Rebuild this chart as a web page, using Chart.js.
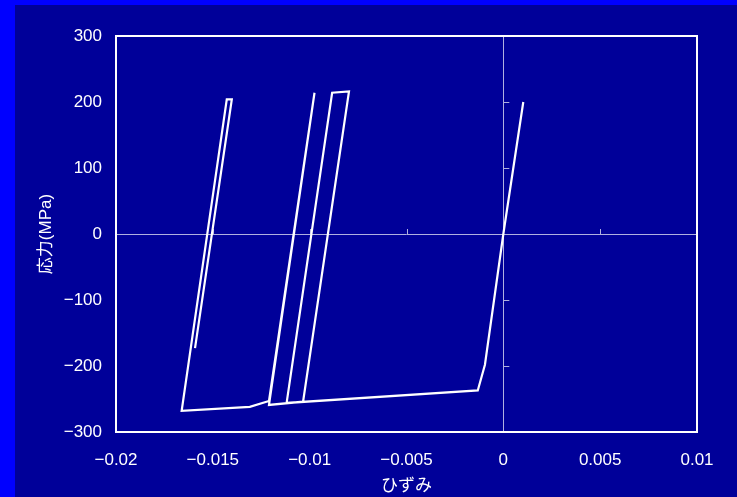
<!DOCTYPE html>
<html><head><meta charset="utf-8">
<script src="https://cdn.jsdelivr.net/npm/chart.js@4/dist/chart.umd.min.js"></script>
<style>
html,body{margin:0;padding:0;background:#0000ff;overflow:hidden;}
#wrap{position:absolute;left:0;top:0;width:737px;height:497px;background:#0000ff;}
#inner{position:absolute;left:15px;top:5px;right:0;bottom:0;background:#000099;}
#c{position:absolute;left:0;top:0;}
</style></head><body>
<div id="wrap"><div id="inner"></div><canvas id="c" width="737" height="497"></canvas></div>
<script>
// strain (ひずみ) and stress (応力, MPa), in drawing order
const strain = [0, 0.00103, 0, -0.00095, -0.00132, -0.01119, -0.00884, -0.00797, -0.01034, -0.0121, -0.00975, -0.0121, -0.01309, -0.01661, -0.01428, -0.01402, -0.01592];
const stress = [0, 200, 0, -198, -237, -256, 214, 216, -254, -259, 214, -253, -262, -268, 204, 204, -173];
const xTicks = [-0.02, -0.015, -0.01, -0.005, 0, 0.005, 0.01];
const yTicks = [-300, -200, -100, 0, 100, 200, 300];
const xTitle = 'ひずみ';
const yTitle = '応力(MPa)';

const points = strain.map((x, i) => ({x: x, y: stress[i]}));
const FONT = "'Liberation Sans', 'Noto Sans CJK JP', sans-serif";
const ZERO = '#b0b0e0';
const minus = s => String(s).replace('-', '\u2212');

const framePlugin = {
  id: 'frame',
  beforeDatasetsDraw(chart) {
    const {ctx, chartArea: a, scales} = chart;
    ctx.save();
    const x0 = scales.x.getPixelForValue(0), y0 = scales.y.getPixelForValue(0);
    ctx.strokeStyle = ZERO; ctx.lineWidth = 1;
    ctx.beginPath();
    xTicks.forEach(v => { if (v !== 0 && v > xTicks[0] && v < xTicks[xTicks.length-1]) { const px = Math.round(scales.x.getPixelForValue(v)) + 0.5; ctx.moveTo(px, y0); ctx.lineTo(px, y0 - 5); } });
    yTicks.forEach(v => { if (v !== 0 && v > yTicks[0] && v < yTicks[yTicks.length-1]) { const py = Math.round(scales.y.getPixelForValue(v)) + 0.5; ctx.moveTo(x0, py); ctx.lineTo(x0 + 6, py); } });
    ctx.stroke();
    ctx.strokeStyle = '#ffffff'; ctx.lineWidth = 2;
    ctx.strokeRect(a.left, a.top, a.right - a.left, a.bottom - a.top);
    ctx.restore();
  }
};

new Chart(document.getElementById('c'), {
  type: 'scatter',
  data: { datasets: [{ data: points, showLine: true, borderColor: '#ffffff', borderWidth: 2.2, pointRadius: 0, fill: false, tension: 0 }] },
  options: {
    responsive: false, animation: false,
    layout: { padding: { top: 36, right: 40, left: 0, bottom: 0 } },
    plugins: { legend: { display: false }, tooltip: { enabled: false } },
    scales: {
      x: {
        type: 'linear', min: -0.02, max: 0.01,
        afterBuildTicks: s => { s.ticks = xTicks.map(v => ({value: v})); },
        afterFit: s => { s.height = 65; },
        grid: { drawTicks: false, lineWidth: 1, color: c => (c.tick && c.tick.value === 0) ? ZERO : 'rgba(0,0,0,0)' },
        border: { display: false },
        ticks: { color: '#ffffff', font: { family: FONT, size: 17 }, padding: 18, maxRotation: 0, autoSkip: false,
          callback: v => minus(Number(Number(v).toFixed(4))) },
        title: { display: true, text: xTitle, color: '#ffffff', font: { family: FONT, size: 17, lineHeight: 1 }, padding: { top: 0, bottom: 2 } }
      },
      y: {
        type: 'linear', min: -300, max: 300,
        afterBuildTicks: s => { s.ticks = yTicks.map(v => ({value: v})); },
        afterFit: s => { s.width = 116; },
        grid: { drawTicks: false, lineWidth: 1, color: c => (c.tick && c.tick.value === 0) ? ZERO : 'rgba(0,0,0,0)' },
        border: { display: false },
        ticks: { color: '#ffffff', font: { family: FONT, size: 17 }, padding: 14, autoSkip: false,
          callback: v => minus(v) },
        title: { display: true, text: yTitle, color: '#ffffff', font: { family: FONT, size: 17 }, padding: { top: 36, bottom: 0 } }
      }
    }
  },
  plugins: [framePlugin]
});
</script>
</body></html>
